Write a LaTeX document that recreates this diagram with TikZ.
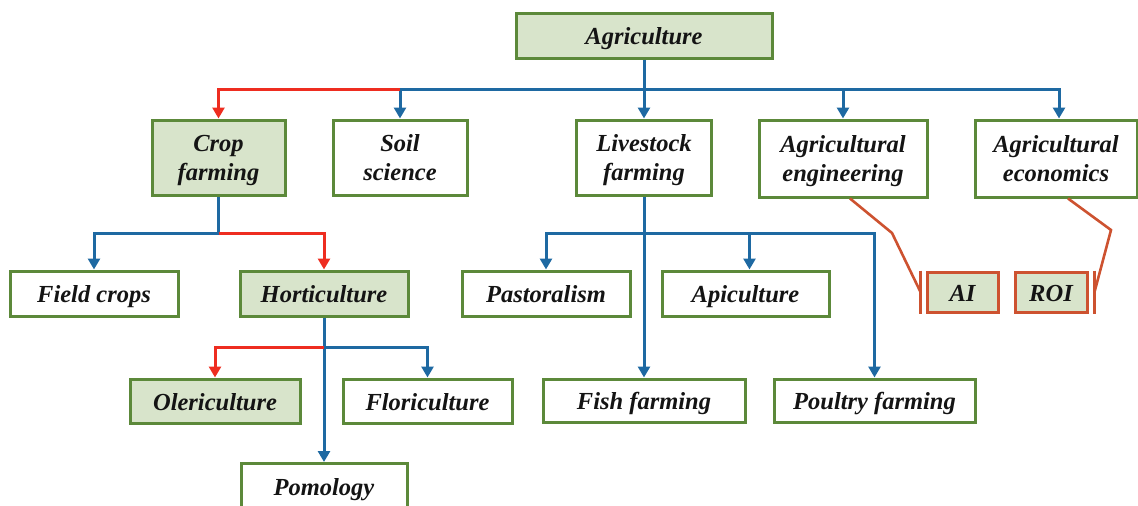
\documentclass[tikz,border=0pt]{standalone}
\usepackage{fontspec}
\setmainfont{Liberation Serif}
\usetikzlibrary{arrows.meta}
\definecolor{boxgreen}{RGB}{92,137,58}
\definecolor{fillgreen}{RGB}{216,228,203}
\definecolor{lineblue}{RGB}{30,105,162}
\definecolor{linered}{RGB}{238,45,32}
\definecolor{lineorange}{RGB}{205,82,48}
\definecolor{txt}{RGB}{20,20,20}
\begin{document}
\begin{tikzpicture}[x=1pt,y=-1pt,
  box/.style={draw=boxgreen, line width=3pt, fill=white, rectangle, inner sep=0pt,
    align=center, text=txt, font=\fontsize{24.5}{29}\selectfont\bfseries\itshape,
    text height=19pt, text depth=1pt},
  twoline/.style={text height=, text depth=0pt},
  gbox/.style={box, fill=fillgreen},
  obox/.style={box, draw=lineorange, fill=fillgreen},
  arr/.style={-{Triangle[width=12pt,length=11pt]}},
  bl/.style={draw=lineblue, line width=3pt},
  rd/.style={draw=linered, line width=3pt},
  org/.style={draw=lineorange, line width=2.6pt}
]
\useasboundingbox (0,0) rectangle (1138,506);
% nodes
\node[gbox, minimum width=256pt, minimum height=45pt] (agri) at (644,35.5) {Agriculture};
\node[gbox, twoline, minimum width=133pt, minimum height=75pt] (crop) at (218.5,157.5) {Crop\\farming};
\node[box, twoline, minimum width=134pt, minimum height=75pt] (soil) at (400,157.5) {Soil\\science};
\node[box, twoline, minimum width=135pt, minimum height=75pt] (live) at (644,157.5) {Livestock\\farming};
\node[box, twoline, minimum width=168pt, minimum height=77pt] (eng) at (843,158.5) {Agricultural\\engineering};
\node[box, twoline, minimum width=162pt, minimum height=77pt] (econ) at (1056,158.5) {Agricultural\\economics};
\node[obox, minimum width=71pt, minimum height=40pt] (ai) at (962.5,292) {AI};
\node[obox, minimum width=72pt, minimum height=40pt] (roi) at (1051,292) {ROI};
\node[box, minimum width=168pt, minimum height=45pt] (field) at (94,293.5) {Field crops};
\node[gbox, minimum width=168pt, minimum height=45pt] (horti) at (324,293.5) {Horticulture};
\node[box, minimum width=168pt, minimum height=45pt] (past) at (546,293.5) {Pastoralism};
\node[box, minimum width=167pt, minimum height=45pt] (api) at (745.5,293.5) {Apiculture};
\node[gbox, minimum width=170pt, minimum height=44pt] (oleri) at (215,401) {Olericulture};
\node[box, minimum width=169pt, minimum height=44pt] (flori) at (427.5,401) {Floriculture};
\node[box, minimum width=202pt, minimum height=43pt] (fish) at (644,400.5) {Fish farming};
\node[box, minimum width=201pt, minimum height=43pt] (poul) at (874.5,400.5) {Poultry farming};
\node[box, minimum width=166pt, minimum height=45pt] (pomo) at (324,486) {Pomology};
% coordinates for branch bars
\coordinate (b1) at (644,89);
\coordinate (b2) at (218.5,233);
\coordinate (b3) at (644,233);
\coordinate (b4) at (324,347);
% top level
\draw[bl] (agri.south) -- (b1);
\draw[bl, arr] (b1) -| (soil.north);
\draw[rd, arr] (b1 -| soil.north) -| (crop.north);
\draw[bl, arr] (agri.south) -- (live.north);
\draw[bl, arr] (b1) -| (eng.north);
\draw[bl, arr] (b1) -| ([xshift=3pt]econ.north);
% crop farming
\draw[bl] (crop.south) -- (b2);
\draw[bl, arr] (b2) -| (field.north);
\draw[rd, arr] (b2) -| (horti.north);
% horticulture
\draw[bl, arr] (horti.south) -- (pomo.north);
\draw[rd, arr] (b4) -| (oleri.north);
\draw[bl, arr] (b4) -| (flori.north);
% livestock
\draw[bl, arr] (live.south) -- (fish.north);
\draw[bl, arr] (b3) -| (past.north);
\draw[bl, arr] (b3) -| ([xshift=4pt]api.north);
\draw[bl, arr] (b3) -| (poul.north);
% AI / ROI links
\draw[org] ([xshift=7pt]eng.south) -- (892,233) -- ([xshift=-5pt]ai.west);
\draw[org] ([xshift=-5pt]ai.north west) -- ([xshift=-5pt]ai.south west);
\draw[org] ([xshift=12pt]econ.south) -- (1111,230) -- ([xshift=6pt]roi.east);
\draw[org] ([xshift=6pt]roi.north east) -- ([xshift=6pt]roi.south east);
\end{tikzpicture}
\end{document}
